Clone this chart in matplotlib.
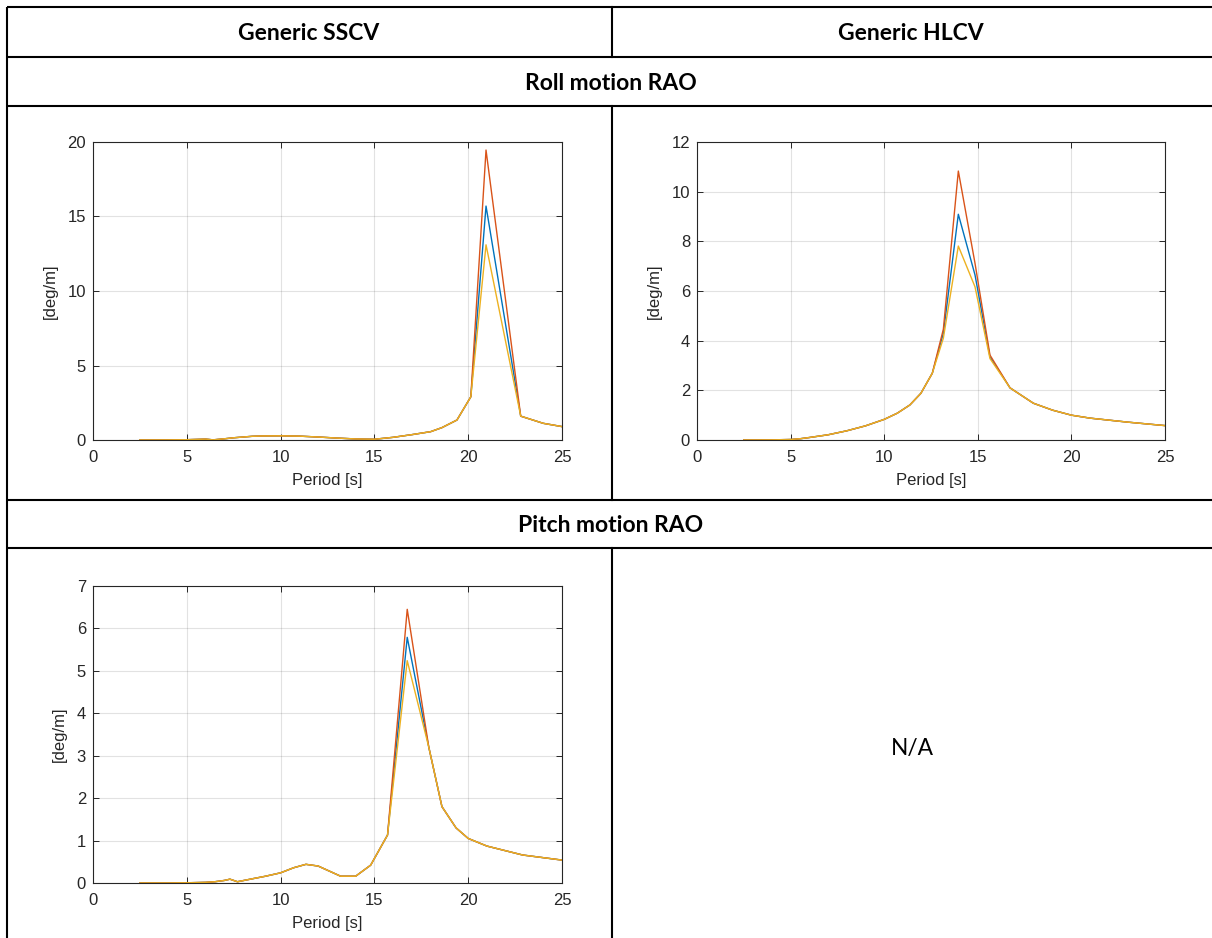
import matplotlib
matplotlib.use("Agg")
import matplotlib.pyplot as plt

plt.rcParams["font.family"] = ["Liberation Sans", "DejaVu Sans"]

# ---------------- data ----------------
# Roll motion RAO - Generic SSCV
sscv_roll_period = [2.5, 3, 4, 5, 5.5, 6, 6.4, 7, 7.5, 8, 8.5, 9, 10, 11, 12, 13, 14, 15,
                    16, 17, 18.0, 18.6, 19.4, 20.14, 20.95, 22.8, 24.0, 25.0]
sscv_roll_common = [0, 0, 0.005, 0.02, 0.04, 0.06, 0.01, 0.08, 0.15, 0.2, 0.25, 0.27, 0.28,
                    0.26, 0.2, 0.13, 0.07, 0.05, 0.18, 0.36, 0.56, 0.83, 1.34, 2.9, None,
                    1.6, 1.12, 0.9]
sscv_roll_peak = {"blue": 15.7, "red": 19.46, "yellow": 13.1}

# Roll motion RAO - Generic HLCV
hlcv_roll_period = [2.5, 3, 4, 5, 5.5, 6, 7, 8, 9, 10, 10.7, 11.37, 11.96, 12.57, 13.16,
                    13.96, 14.85, 15.65, 16.72, 17.97, 19, 20, 21, 22, 23, 24, 25]
hlcv_roll_blue = [0, 0, 0.005, 0.02, 0.05, 0.1, 0.21, 0.37, 0.57, 0.83, 1.08, 1.41, 1.88,
                  2.69, 4.3, 9.09, 6.65, 3.35, 2.1, 1.48, 1.2, 1.0, 0.88, 0.8, 0.72, 0.65, 0.58]
hlcv_roll_red = [0, 0, 0.005, 0.02, 0.05, 0.1, 0.21, 0.37, 0.57, 0.83, 1.08, 1.41, 1.88,
                 2.69, 4.46, 10.83, 7.12, 3.42, 2.1, 1.48, 1.2, 1.0, 0.88, 0.8, 0.72, 0.65, 0.58]
hlcv_roll_yellow = [0, 0, 0.005, 0.02, 0.05, 0.1, 0.21, 0.37, 0.57, 0.83, 1.08, 1.41, 1.88,
                    2.69, 4.1, 7.81, 6.17, 3.28, 2.1, 1.48, 1.2, 1.0, 0.88, 0.8, 0.72, 0.65, 0.58]

# Pitch motion RAO - Generic SSCV
sscv_pitch_period = [2.5, 3, 4, 5, 5.5, 6, 6.5, 7.0, 7.3, 7.7, 8.5, 9.2, 10, 10.7, 11.35,
                     12, 12.6, 13.2, 14.0, 14.8, 15.7, 16.75, 17.9, 18.6, 19.35, 20.0,
                     21.0, 22.9, 25.0]
sscv_pitch_common = [0, 0, 0, 0.005, 0.01, 0.015, 0.03, 0.06, 0.09, 0.03, 0.1, 0.16, 0.24,
                     0.36, 0.44, 0.4, 0.28, 0.16, 0.16, 0.42, 1.13, None, 3.2, 1.8, 1.3,
                     1.05, 0.87, 0.66, 0.54]
sscv_pitch_peak = {"blue": 5.79, "red": 6.45, "yellow": 5.24}

col_headers = ["Generic SSCV", "Generic HLCV"]
row_headers = ["Roll motion RAO", "Pitch motion RAO"]
na_text = "N/A"
x_ticks = [0, 5, 10, 15, 20, 25]
roll_sscv_yticks = [0, 5, 10, 15, 20]
roll_hlcv_yticks = [0, 2, 4, 6, 8, 10, 12]
pitch_yticks = [0, 1, 2, 3, 4, 5, 6, 7]

colors = {"blue": "#0072BD", "red": "#D95319", "yellow": "#EDB120"}

W, H = 1212, 938
fig = plt.figure(figsize=(W / 100, H / 100), dpi=100)
fig.patch.set_facecolor("white")

# ---------------- table frame ----------------
bg = fig.add_axes([0, 0, 1, 1], zorder=-10)
bg.set_xlim(0, W)
bg.set_ylim(H, 0)
bg.axis("off")
lw_tab = 1.5
for y in [7.5, 57, 106, 500, 548]:
    bg.plot([6.5, W + 5], [y, y], color="black", lw=lw_tab, solid_capstyle="butt")
bg.plot([6.5, 6.5], [6.8, H + 5], color="black", lw=lw_tab, solid_capstyle="butt")
bg.plot([611.5, 611.5], [7.5, 57], color="black", lw=lw_tab)
bg.plot([611.5, 611.5], [106, 500], color="black", lw=lw_tab)
bg.plot([611.5, 611.5], [548, H + 5], color="black", lw=lw_tab)

hfont = dict(family="Lato", fontweight="bold", fontsize=16.5)
bg.text(309, 33, col_headers[0], ha="center", va="center", **hfont)
bg.text(911, 33, col_headers[1], ha="center", va="center", **hfont)
bg.text(611, 83, row_headers[0], ha="center", va="center", **hfont)
bg.text(611, 526, row_headers[1], ha="center", va="center", **hfont)
bg.text(912, 749, na_text, ha="center", va="center", family="Lato", fontsize=16.4)

# ---------------- plots ----------------
axcol = "#262626"


def style(ax, yticks):
    ax.set_xlim(0, 25)
    ax.set_ylim(yticks[0], yticks[-1])
    ax.set_xticks(x_ticks)
    ax.set_yticks(yticks)
    ax.grid(True, color="#262626", alpha=0.13, lw=0.8)
    ax.set_axisbelow(True)
    ax.tick_params(direction="in", top=True, right=True, length=4.5, width=0.7,
                   colors=axcol, labelsize=12, labelcolor=axcol)
    ax.tick_params(axis="x", pad=7)
    ax.tick_params(axis="y", pad=5)
    for s in ax.spines.values():
        s.set_color(axcol)
        s.set_linewidth(0.8)
    ax.set_xlabel("Period [s]", fontsize=12, color=axcol, labelpad=6)
    ax.set_ylabel("[deg/m]", fontsize=12, color=axcol, labelpad=7)


def with_peak(common, value):
    return [value if v is None else v for v in common]


ax1 = fig.add_axes([93 / W, 1 - 440 / H, 469 / W, 298 / H])
for c in ["blue", "red", "yellow"]:
    ax1.plot(sscv_roll_period, with_peak(sscv_roll_common, sscv_roll_peak[c]),
             color=colors[c], lw=1.0)
style(ax1, roll_sscv_yticks)

ax2 = fig.add_axes([697 / W, 1 - 440 / H, 468 / W, 298 / H])
ax2.plot(hlcv_roll_period, hlcv_roll_blue, color=colors["blue"], lw=1.0)
ax2.plot(hlcv_roll_period, hlcv_roll_red, color=colors["red"], lw=1.0)
ax2.plot(hlcv_roll_period, hlcv_roll_yellow, color=colors["yellow"], lw=1.0)
style(ax2, roll_hlcv_yticks)

ax3 = fig.add_axes([93 / W, 1 - 883 / H, 469 / W, 297 / H])
for c in ["blue", "red", "yellow"]:
    ax3.plot(sscv_pitch_period, with_peak(sscv_pitch_common, sscv_pitch_peak[c]),
             color=colors[c], lw=1.0)
style(ax3, pitch_yticks)

fig.savefig("out.png", dpi=100, facecolor="white")
